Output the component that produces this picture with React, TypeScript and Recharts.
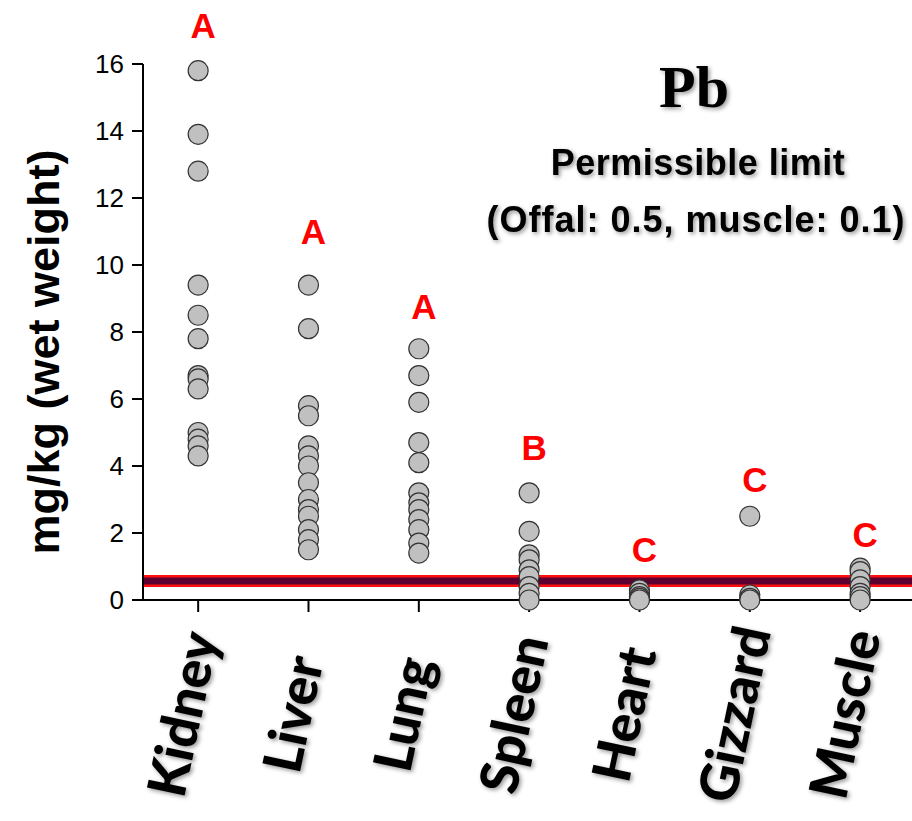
import { ScatterChart, Scatter, XAxis, YAxis, ReferenceLine, ReferenceDot } from 'recharts';

const organs = ['Kidney', 'Liver', 'Lung', 'Spleen', 'Heart', 'Gizzard', 'Muscle'];

const kidney = [15.8, 13.9, 12.8, 9.4, 8.5, 7.8, 6.7, 6.6, 6.3, 5.0, 4.8, 4.6, 4.3];
const liver = [9.4, 8.1, 5.8, 5.5, 4.6, 4.3, 4.0, 3.5, 3.0, 2.7, 2.5, 2.1, 1.8, 1.5];
const lung = [7.5, 6.7, 5.9, 4.7, 4.1, 3.2, 2.9, 2.7, 2.4, 2.1, 1.7, 1.4];
const spleen = [3.2, 2.05, 1.35, 1.2, 0.9, 0.7, 0.4, 0.2, 0];
const heart = [0.3, 0.2, 0.1, 0.05, 0];
const gizzard = [2.5, 0.15, 0.05, 0];
const muscle = [0.95, 0.85, 0.6, 0.4, 0.2, 0.1, 0];

// significance groups and the level (mg/kg) where each letter sits
const groupLetters = ['A', 'A', 'A', 'B', 'C', 'C', 'C'];
const letterLevels = [17.15, 11.0, 8.75, 4.55, 1.5, 3.6, 1.95];

const yTicks = [0, 2, 4, 6, 8, 10, 12, 14, 16];
const xTicks = [1, 2, 3, 4, 5, 6, 7];
const limitLevel = 0.57;

const seriesValues = [kidney, liver, lung, spleen, heart, gizzard, muscle];
const points = seriesValues.flatMap((vals, i) => vals.map((v) => ({ x: i + 1, y: v })));

const OrganTick = (props: any) => {
  const { x, y, payload } = props;
  const ax = x + 3;
  const ay = y + 104;
  return (
    <g filter="url(#lblShadow)">
      <text
        x={ax}
        y={ay}
        transform={`rotate(-78, ${ax}, ${ay})`}
        textAnchor="middle"
        fontFamily="Lato, 'Open Sans', sans-serif"
        fontWeight={900}
        fontSize={53}
        fill="#000"
      >
        {organs[payload.value - 1]}
      </text>
    </g>
  );
};

const Dot = (props: any) => (
  <circle cx={props.cx} cy={props.cy} r={10} fill="#c0c0c0" stroke="#333" strokeWidth={1.2} />
);

export default function App() {
  return (
    <div
      style={{
        position: 'absolute',
        left: 0,
        top: 0,
        width: 912,
        height: 821,
        overflow: 'hidden',
        background: '#fff',
        fontFamily: "'Liberation Sans', Arial, sans-serif",
      }}
    >
      <svg width="0" height="0" style={{ position: 'absolute' }}>
        <defs>
          <filter id="lblShadow" x="-20%" y="-20%" width="140%" height="140%">
            <feDropShadow dx="2" dy="2" stdDeviation="2" floodColor="#000" floodOpacity="0.4" />
          </filter>
        </defs>
      </svg>
      <ScatterChart width={912} height={821} margin={{ top: 64, right: 0, left: 0, bottom: 0 }}>
        <XAxis
          type="number"
          dataKey="x"
          domain={[0.5, 7.47]}
          ticks={xTicks}
          tick={<OrganTick />}
          tickSize={12}
          height={221}
          axisLine={{ stroke: '#000', strokeWidth: 2 }}
          tickLine={{ stroke: '#000', strokeWidth: 2 }}
          interval={0}
        />
        <YAxis
          type="number"
          dataKey="y"
          domain={[0, 16]}
          ticks={yTicks}
          width={143}
          tickSize={11}
          tickMargin={8}
          axisLine={{ stroke: '#000', strokeWidth: 2 }}
          tickLine={{ stroke: '#000', strokeWidth: 2 }}
          tick={{ fill: '#000', fontSize: 26, fontFamily: "'Liberation Sans', Arial" }}
        />
        <Scatter data={points} shape={<Dot />} isAnimationActive={false} />
        <ReferenceLine y={limitLevel} stroke="#ff1010" strokeWidth={12} ifOverflow="visible" />
        <ReferenceLine y={limitLevel} stroke="#5c0030" strokeWidth={7} ifOverflow="visible" />
        {groupLetters.map((letter, i) => (
          <ReferenceDot
            key={i}
            x={i + 1}
            y={letterLevels[i]}
            r={0}
            ifOverflow="visible"
            shape={(p: any) => (
              <text
                x={p.cx + 5}
                y={p.cy}
                dy="0.36em"
                textAnchor="middle"
                fill="#ff0000"
                fontSize={35}
                fontWeight="bold"
                fontFamily="'Liberation Sans', Arial"
              >
                {letter}
              </text>
            )}
          />
        ))}
      </ScatterChart>
      <svg
        width={912}
        height={821}
        style={{ position: 'absolute', left: 0, top: 0, pointerEvents: 'none' }}
      >
        <text
          x={59}
          y={352}
          transform="rotate(-90, 59, 352)"
          textAnchor="middle"
          fontSize={45}
          fontWeight="bold"
          fontFamily="'Liberation Sans', Arial"
          fill="#000"
        >
          mg/kg (wet weight)
        </text>
        <g filter="url(#lblShadow)">
          <text x={694} y={107} textAnchor="middle" fontSize={60} fontWeight="bold" fontFamily="'Liberation Serif', 'Times New Roman', serif">
            Pb
          </text>
          <text x={698} y={175} textAnchor="middle" fontSize={36} fontWeight="bold" letterSpacing={0.5} fontFamily="'Liberation Sans', Arial">
            Permissible limit
          </text>
          <text x={696} y={232} textAnchor="middle" fontSize={36} fontWeight="bold" letterSpacing={1} fontFamily="'Liberation Sans', Arial">
            (Offal: 0.5, muscle: 0.1)
          </text>
        </g>
      </svg>
    </div>
  );
}
